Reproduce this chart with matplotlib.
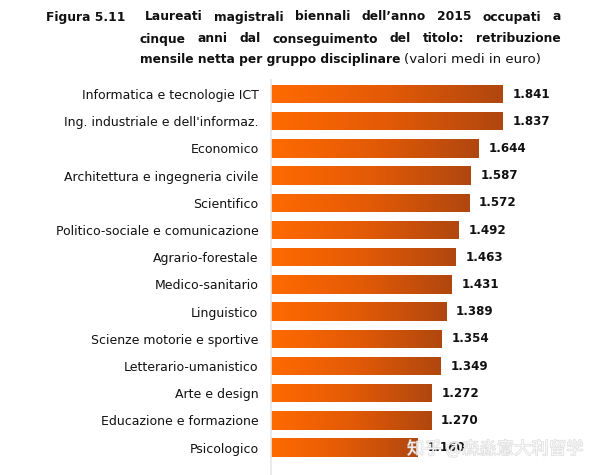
import numpy as np
import matplotlib
matplotlib.use("Agg")
import matplotlib.pyplot as plt
import matplotlib.patheffects as pe
from matplotlib.colors import LinearSegmentedColormap

categories = [
    "Informatica e tecnologie ICT",
    "Ing. industriale e dell'informaz.",
    "Economico",
    "Architettura e ingegneria civile",
    "Scientifico",
    "Politico-sociale e comunicazione",
    "Agrario-forestale",
    "Medico-sanitario",
    "Linguistico",
    "Scienze motorie e sportive",
    "Letterario-umanistico",
    "Arte e design",
    "Educazione e formazione",
    "Psicologico",
]
values = [1841, 1837, 1644, 1587, 1572, 1492, 1463, 1431, 1389, 1354, 1349, 1272, 1270, 1160]
value_labels = ["1.841", "1.837", "1.644", "1.587", "1.572", "1.492", "1.463", "1.431",
                "1.389", "1.354", "1.349", "1.272", "1.270", "1.160"]

title_num = "Figura 5.11"
title_lines = [
    "Laureati magistrali biennali dell\u2019anno 2015 occupati a",
    "cinque anni dal conseguimento del titolo: retribuzione",
]
title_last_bold = "mensile netta per gruppo disciplinare"
title_last_normal = "(valori medi in euro)"
watermark = "知乎 @森淼意大利留学"

plt.rcParams['font.family'] = ['DejaVu Sans']

fig = plt.figure(figsize=(6, 4.75), dpi=100)
W, H = 600, 475
ax_left, ax_right = 271, 600
ax_top, ax_bottom = 80, 475
ax = fig.add_axes([ax_left / W, 1 - ax_bottom / H, (ax_right - ax_left) / W, (ax_bottom - ax_top) / H])

n = len(categories)
y = np.arange(n)
row = 27.2
top_off = (94 - ax_top) / row
ax.set_ylim(-top_off + (ax_bottom - ax_top) / row, -top_off)
ax.set_xlim(0, (ax_right - ax_left) / 126.0 * 1000)

cmap = LinearSegmentedColormap.from_list("og", ["#ff6a00", "#e35a06", "#b0470f"])
grad = np.linspace(0, 1, 256).reshape(1, -1)
bars = ax.barh(y, values, height=0.67, color="none", edgecolor="none")
for b in bars:
    x0, y0 = b.get_x(), b.get_y()
    w, h = b.get_width(), b.get_height()
    im = ax.imshow(grad, cmap=cmap, aspect="auto", extent=[x0, x0 + w, y0 + h, y0],
                   interpolation="bilinear", zorder=2)
    im.set_clip_path(b)

for yi, v, lab in zip(y, values, value_labels):
    ax.text(v + 80, yi, lab, va="center", ha="left", fontsize=8.6, fontweight="bold", color="#111111")

ax.set_yticks(y)
ax.set_yticklabels(categories, fontsize=9, color="#111111")
ax.tick_params(axis="y", length=0, pad=9)
ax.set_xticks([])
for s in ["top", "right", "bottom"]:
    ax.spines[s].set_visible(False)
ax.spines["left"].set_color("#e6e6e6")
ax.spines["left"].set_linewidth(1.2)

# ---- Title ----
fig.canvas.draw()
r = fig.canvas.get_renderer()

def px_width(txt):
    return txt.get_window_extent(renderer=r).width

fs = 8.8
tcol = "#111111"
fig.text(46 / W, 1 - 17 / H, title_num, fontsize=fs, fontweight="bold", va="center", ha="left",
         color=tcol)

def justify(words, x_left, x_right, ypix):
    objs = [fig.text(0, 1 - ypix / H, w, fontsize=fs, fontweight="bold", va="center",
                     ha="left", color=tcol) for w in words]
    widths = [px_width(o) for o in objs]
    gap = (x_right - x_left - sum(widths)) / (len(words) - 1)
    x = x_left
    for o, wd in zip(objs, widths):
        o.set_x(x / W)
        x += wd + gap

justify(title_lines[0].split(" "), 145, 561, 17)
justify(title_lines[1].split(" "), 140, 561, 39)
t = fig.text(140 / W, 1 - 60 / H, title_last_bold, fontsize=fs, fontweight="bold",
             va="center", ha="left", color=tcol)
bb = t.get_window_extent(renderer=r)
fig.text((bb.x1 + 4) / W, 1 - 60 / H, title_last_normal, fontsize=9.6, va="center",
         ha="left", color=tcol)

# ---- Watermark ----
fig.text(407 / W, 1 - 449 / H, watermark, fontsize=12.5, va="center", ha="left",
         color="#ffffff", alpha=0.8, family=["Noto Sans CJK SC", "DejaVu Sans"], zorder=10,
         path_effects=[pe.withStroke(linewidth=0.9, foreground="#c4c4c4", alpha=0.6)])

fig.savefig("out.png", dpi=100)
